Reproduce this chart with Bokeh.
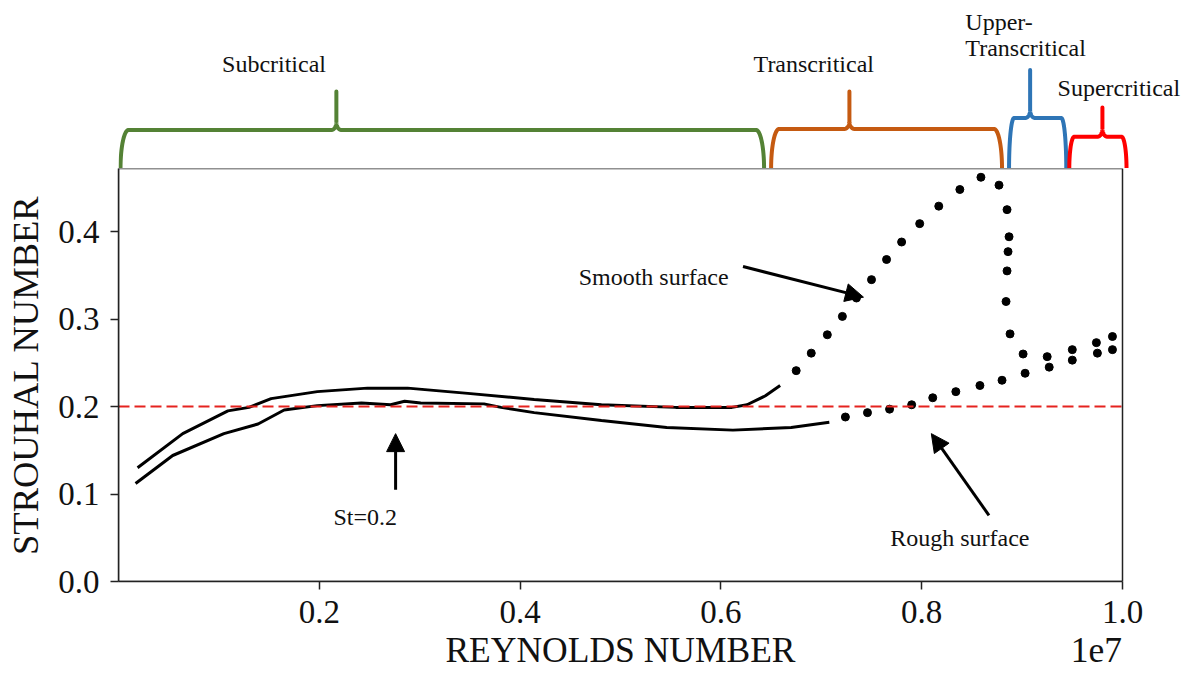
import numpy as np
from bokeh.plotting import figure
from bokeh.layouts import column
from bokeh.models import (Range1d, FixedTicker, Arrow, NormalHead, ColumnDataSource,
                          BoxAnnotation, LinearAxis)
from bokeh.embed import file_html
from bokeh.resources import INLINE
from bokeh.core.properties import value

# ---------------- data (Reynolds number in units of 1e7) ----------------
upper_re = [0.019, 0.064, 0.109, 0.130, 0.152, 0.198, 0.248, 0.288, 0.348, 0.414,
            0.481, 0.555, 0.611, 0.626, 0.644, 0.659]
upper_st = [0.130, 0.169, 0.195, 0.199, 0.209, 0.217, 0.221, 0.221, 0.215, 0.208,
            0.202, 0.199, 0.199, 0.202, 0.212, 0.224]

lower_re = [0.017, 0.054, 0.105, 0.139, 0.165, 0.198, 0.242, 0.271, 0.285, 0.301,
            0.364, 0.381, 0.414, 0.481, 0.546, 0.612, 0.670, 0.708]
lower_st = [0.112, 0.144, 0.169, 0.180, 0.196, 0.201, 0.204, 0.202, 0.206, 0.204,
            0.203, 0.199, 0.193, 0.184, 0.176, 0.173, 0.176, 0.182]

smooth_re = [0.675, 0.690, 0.706, 0.721, 0.735, 0.750, 0.765, 0.780, 0.798, 0.817,
             0.838, 0.859, 0.877, 0.885, 0.887, 0.886, 0.885, 0.884, 0.888, 0.901,
             0.925, 0.950, 0.974, 0.990]
smooth_st = [0.241, 0.261, 0.282, 0.303, 0.324, 0.345, 0.368, 0.388, 0.409, 0.429,
             0.448, 0.462, 0.453, 0.425, 0.394, 0.377, 0.355, 0.320, 0.283, 0.260,
             0.257, 0.265, 0.273, 0.280]

rough_re = [0.724, 0.746, 0.768, 0.790, 0.811, 0.834, 0.858, 0.880, 0.903, 0.927,
            0.950, 0.975, 0.990]
rough_st = [0.188, 0.193, 0.197, 0.202, 0.210, 0.217, 0.224, 0.230, 0.238, 0.245,
            0.253, 0.261, 0.265]

st_ref = 0.2

regime_names = ["Subcritical", "Transcritical", "Upper-\nTranscritical", "Supercritical"]
regime_start = [0.002, 0.650, 0.887, 0.947]
regime_end = [0.643, 0.880, 0.944, 1.004]
regime_tip = [0.217, 0.728, 0.908, 0.980]
regime_colors = ["#548235", "#C55A11", "#2E75B6", "#FF0000"]

x_ticks = [0.2, 0.4, 0.6, 0.8, 1.0]
x_tick_labels = ["0.2", "0.4", "0.6", "0.8", "1.0"]
y_ticks = [0.0, 0.1, 0.2, 0.3, 0.4]
y_tick_labels = ["0.0", "0.1", "0.2", "0.3", "0.4"]
x_title = "REYNOLDS NUMBER"
x_offset_text = "1e7"
y_title = "STROUHAL NUMBER"

X_MIN, X_MAX = 0.0, 1.0
Y_MIN, Y_MAX = 0.0, 0.472

# ---------------- layout / style ----------------
SERIF = "Liberation Serif"
W = 1187
LEFT = 118
TOP_H, MAIN_H = 168, 505
PX_X = 1004.0
PX_Y = 413.0 / (Y_MAX - Y_MIN)
x_view = Range1d(X_MIN, X_MIN + (W - LEFT) / PX_X)
INK = "#111111"
EDGE = "#222222"

# ================= main plot =================
p = figure(width=W, height=MAIN_H, x_range=x_view,
           y_range=Range1d(Y_MIN, Y_MAX), toolbar_location=None,
           output_backend="svg", min_border_left=LEFT, min_border_right=0,
           min_border_top=0, min_border_bottom=92)
p.outline_line_color = None
p.grid.visible = False

for ax, ticks, labels, bnds in ((p.xaxis[0], x_ticks, x_tick_labels, (X_MIN, X_MAX)),
                                (p.yaxis[0], y_ticks, y_tick_labels, (Y_MIN, Y_MAX))):
    ax.ticker = FixedTicker(ticks=ticks)
    ax.major_label_overrides = {t: l for t, l in zip(ticks, labels)}
    ax.bounds = bnds
    ax.minor_tick_line_color = None
    ax.major_tick_in = 0
    ax.major_tick_out = 8
    ax.major_tick_line_width = 1.5
    ax.axis_line_width = 1.5
    ax.axis_line_color = EDGE
    ax.major_tick_line_color = EDGE
    ax.major_label_text_font = SERIF
    ax.major_label_text_font_size = "33px"
    ax.major_label_text_color = INK
p.xaxis.major_label_standoff = 11
p.yaxis.major_label_standoff = 11
p.yaxis.axis_label = y_title
p.yaxis.axis_label_text_font = SERIF
p.yaxis.axis_label_text_font_size = "36.5px"
p.yaxis.axis_label_text_font_style = "normal"
p.yaxis.axis_label_text_color = INK
p.yaxis.axis_label_standoff = 9

# second row under the x axis: axis title and the 1e7 offset text
title_pos = (X_MIN + X_MAX) / 2
offset_pos = 0.974
ax2 = LinearAxis(ticker=FixedTicker(ticks=[title_pos, offset_pos]),
                 major_label_overrides={title_pos: x_title, offset_pos: x_offset_text},
                 axis_line_color=None, major_tick_line_color=None, major_tick_out=0,
                 major_tick_in=0, minor_tick_line_color=None, major_label_standoff=4,
                 major_label_text_font=SERIF, major_label_text_font_size="35.5px",
                 major_label_text_color=INK)
p.add_layout(ax2, "below")

# top and right edges of the axes box
p.add_layout(BoxAnnotation(left=X_MIN, right=X_MAX, bottom=Y_MIN, top=Y_MAX,
                           fill_alpha=0, line_alpha=1, line_color=EDGE, line_width=1.5))

p.line(upper_re, upper_st, line_width=3, line_color="black")
p.line(lower_re, lower_st, line_width=3, line_color="black")
p.scatter(smooth_re, smooth_st, size=8, color="black")
p.scatter(rough_re, rough_st, size=8, color="black")
p.line([X_MIN, X_MAX], [st_ref, st_ref], line_color="#e5231f", line_width=2,
       line_dash="11 5")

ann = ColumnDataSource(dict(x=[0.533, 0.838, 0.2457], y=[0.3480, 0.0497, 0.0733],
                            t=["Smooth surface", "Rough surface", "St=0.2"]))
p.text(x="x", y="y", text="t", source=ann, text_font=value(SERIF),
       text_font_size="24px", text_align="center", text_baseline="alphabetic",
       text_color=INK)

for xs_, ys_, xe, ye in ((0.622, 0.360, 0.742, 0.325),
                         (0.867, 0.0756, 0.8096, 0.169),
                         (0.276, 0.105, 0.276, 0.169)):
    p.add_layout(Arrow(end=NormalHead(size=18, fill_color="black", line_color="black"),
                       x_start=xs_, y_start=ys_, x_end=xe, y_end=ye,
                       line_width=3, line_color="black"))

# ================= regime braces (top strip) =================
top = figure(width=W, height=TOP_H, x_range=x_view,
             y_range=Range1d(Y_MAX, Y_MAX + TOP_H / PX_Y), toolbar_location=None,
             output_backend="svg", min_border_left=LEFT, min_border_right=0,
             min_border_top=0, min_border_bottom=0, x_axis_type=None, y_axis_type=None)
top.outline_line_color = None
top.grid.visible = False

brace_level = [0.5160, 0.5172, 0.5297, 0.5083]
brace_top = [0.5600, 0.5600, 0.5845, 0.5418]
brace_rx = [0.008, 0.008, 0.005, 0.005]
cusp_rx, cusp_ry = 0.005, 0.009
th = np.linspace(0, np.pi / 2, 24)
bxs, bys = [], []
for x0, x1, xt, yl, yt, rx in zip(regime_start, regime_end, regime_tip,
                                  brace_level, brace_top, brace_rx):
    yb = Y_MAX
    ry = yl - yb
    lx = x0 + rx - rx * np.cos(th); ly = yb + ry * np.sin(th)
    c1x = xt - cusp_rx + cusp_rx * np.sin(th); c1y = yl + cusp_ry - cusp_ry * np.cos(th)
    c2x = xt + cusp_rx - cusp_rx * np.cos(th); c2y = yl + cusp_ry - cusp_ry * np.sin(th)
    rxx = x1 - rx + rx * np.sin(th); ryy = yb + ry * np.cos(th)
    bxs.append(np.concatenate([lx, c1x, [xt, xt], c2x, rxx]).tolist())
    bys.append(np.concatenate([ly, c1y, [yt, yl + cusp_ry], c2y, ryy]).tolist())
top.multi_line(bxs, bys, line_color=regime_colors, line_width=4, line_join="round")

label_anchor_x = [0.1549, 0.6925, 0.8435, 0.9964]
label_base_y = [0.5919, 0.5919, 0.6393, 0.5645]
label_align = ["center", "center", "left", "center"]
line_step = 0.0297
lab = dict(x=[], y=[], t=[], a=[])
for name, lx_, ly_, al in zip(regime_names, label_anchor_x, label_base_y, label_align):
    for i, part in enumerate(name.split("\n")):
        lab["x"].append(lx_); lab["y"].append(ly_ - i * line_step)
        lab["t"].append(part); lab["a"].append(al)
top.text(x="x", y="y", text="t", text_align="a", source=ColumnDataSource(lab),
         text_font=value(SERIF), text_font_size="24px", text_color=INK,
         text_baseline="alphabetic")

layout = column(top, p, spacing=0)
open("out.html", "w").write(file_html(layout, INLINE))
